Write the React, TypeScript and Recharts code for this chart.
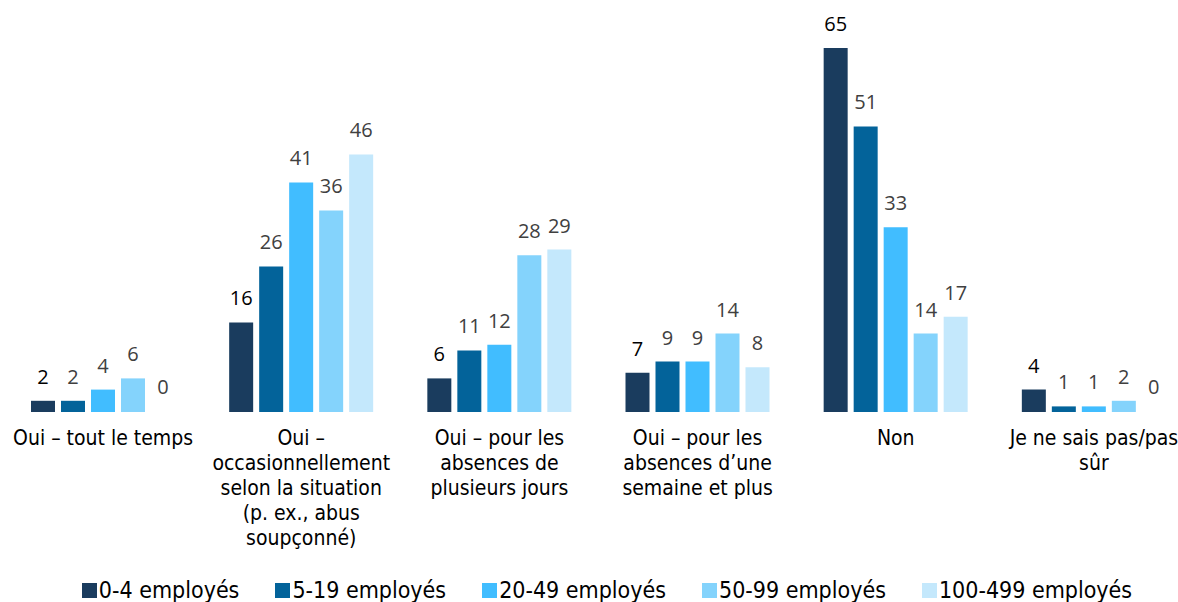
import { Bar, BarChart, LabelList, Rectangle, XAxis, YAxis } from "recharts";

const categories = [
  "Oui – tout le temps",
  "Oui –\noccasionnellement\nselon la situation\n(p. ex., abus\nsoupçonné)",
  "Oui – pour les\nabsences de\nplusieurs jours",
  "Oui – pour les\nabsences d’une\nsemaine et plus",
  "Non",
  "Je ne sais pas/pas\nsûr",
];

const seriesNames = ["0-4 employés", "5-19 employés", "20-49 employés", "50-99 employés", "100-499 employés"];
const s0 = [2, 16, 6, 7, 65, 4];
const s1 = [2, 26, 11, 9, 51, 1];
const s2 = [4, 41, 12, 9, 33, 1];
const s3 = [6, 36, 28, 14, 14, 2];
const s4 = [0, 46, 29, 8, 17, 0];

const COLORS = ["#1a3c5e", "#03639a", "#41bdff", "#84d3fc", "#c4e8fc"];
const keys = ["s0", "s1", "s2", "s3", "s4"];

const data = categories.map((name, i) => ({
  name,
  s0: s0[i],
  s1: s1[i],
  s2: s2[i],
  s3: s3[i],
  s4: s4[i],
}));

const FONT = "'DejaVu Sans Condensed', 'DejaVu Sans', sans-serif";

function CategoryTick({ x, y, payload }: any) {
  const lines = String(payload.value).split("\n");
  return (
    <text x={x} y={y} textAnchor="middle" fontFamily={FONT} fontSize={21} fill="#000">
      {lines.map((l, i) => (
        <tspan key={i} x={x} dy={i === 0 ? 25 : 25}>
          {l}
        </tspan>
      ))}
    </text>
  );
}

function Legend() {
  return (
    <div
      style={{
        position: "absolute",
        top: 576,
        left: 36,
        width: 1142,
        display: "flex",
        justifyContent: "center",
        gap: 36,
        fontFamily: FONT,
        fontSize: 23,
        lineHeight: "28px",
        color: "#000",
      }}
    >
      {seriesNames.map((n, i) => (
        <div key={n} style={{ display: "flex", alignItems: "center", gap: 2 }}>
          <span style={{ width: 15, height: 15, background: COLORS[i], display: "inline-block" }} />
          <span>{n}</span>
        </div>
      ))}
    </div>
  );
}

const BarShape = (props: any) => (props.value === 0 || (Array.isArray(props.value) && props.value[1] === 0) ? <g /> : <Rectangle {...props} />);

export default function App() {
  return (
    <div style={{ position: "absolute", left: 0, top: 0, width: 1178, height: 602, overflow: "hidden", background: "#fff" }}>
      <BarChart
        width={1200}
        height={602}
        data={data}
        margin={{ top: 48, right: 7, bottom: 189, left: 4 }}
        barSize={24}
        barGap={6}
      >
        <XAxis dataKey="name" axisLine={false} tickLine={false} tick={<CategoryTick />} interval={0} height={1} />
        <YAxis hide domain={[0, 65]} />
        {keys.map((k, i) => (
          <Bar
            key={k}
            dataKey={k}
            fill={COLORS[i]}
            isAnimationActive={false}
            minPointSize={(v: number) => (v === 0 ? 1 : 0)}
            shape={BarShape}
          >
            <LabelList
              dataKey={k}
              position="top"
              offset={17}
              fill={i === 0 ? "#000" : "#404040"}
              fontFamily="'Open Sans', sans-serif"
              fontSize={20}
            />
          </Bar>
        ))}
      </BarChart>
      <Legend />
    </div>
  );
}
